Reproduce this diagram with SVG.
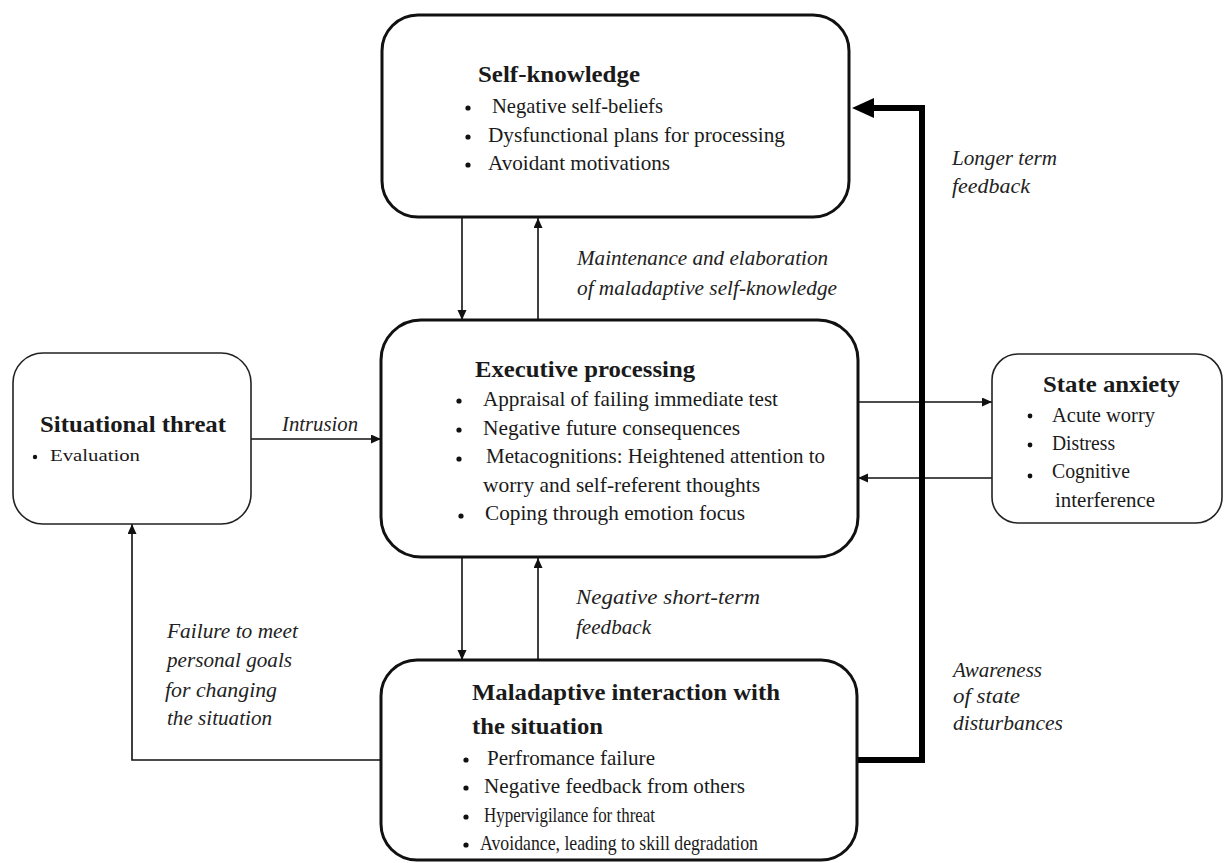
<svg xmlns="http://www.w3.org/2000/svg" width="1225" height="863" viewBox="0 0 1225 863">
<defs>
<style>
.box{fill:#fff;stroke:#111;stroke-width:3}
.sbox{fill:#fff;stroke:#222;stroke-width:1.6}
.t{font-family:"Liberation Serif","Times New Roman",serif;fill:#1a1a1a}
.title{font-weight:bold;font-size:24px}
.item{font-size:21px}
.lab{font-style:italic;font-size:21px;fill:#222}
.ln{fill:none;stroke:#111;stroke-width:1.6}
.thick{fill:none;stroke:#000;stroke-width:6}
</style>
<marker id="ah" markerUnits="userSpaceOnUse" markerWidth="12" markerHeight="10" refX="10" refY="4.5" orient="auto">
<path d="M0,0 L10,4.5 L0,9 z" fill="#111"/>
</marker>
<marker id="big" markerUnits="userSpaceOnUse" markerWidth="24" markerHeight="22" refX="8" refY="10" orient="auto">
<path d="M0,0 L22,10 L0,20 z" fill="#000"/>
</marker>
</defs>
<rect width="1225" height="863" fill="#fff"/>

<g id="connectors">
<line class="ln" x1="462" y1="218" x2="462" y2="320" marker-end="url(#ah)"/>
<line class="ln" x1="538" y1="320" x2="538" y2="218" marker-end="url(#ah)"/>
<line class="ln" x1="462" y1="558" x2="462" y2="660" marker-end="url(#ah)"/>
<line class="ln" x1="538" y1="660" x2="538" y2="558" marker-end="url(#ah)"/>
<line class="ln" x1="251" y1="439" x2="381" y2="439" marker-end="url(#ah)"/>
<line class="ln" x1="858" y1="402" x2="992" y2="402" marker-end="url(#ah)"/>
<line class="ln" x1="992" y1="478" x2="858" y2="478" marker-end="url(#ah)"/>
<path class="ln" d="M381,760 H132 V524" marker-end="url(#ah)"/>
<path class="thick" d="M857,760 H922 V108 H866" marker-end="url(#big)"/>
<text class="t lab" x="282" y="431" textLength="76" lengthAdjust="spacingAndGlyphs">Intrusion</text>
<text class="t lab" x="577" y="265" textLength="251" lengthAdjust="spacingAndGlyphs">Maintenance and elaboration</text>
<text class="t lab" x="577" y="295" textLength="260" lengthAdjust="spacingAndGlyphs">of maladaptive self-knowledge</text>
<text class="t lab" x="952" y="165" textLength="105" lengthAdjust="spacingAndGlyphs">Longer term</text>
<text class="t lab" x="952" y="193" textLength="78" lengthAdjust="spacingAndGlyphs">feedback</text>
<text class="t lab" x="576" y="604" textLength="184" lengthAdjust="spacingAndGlyphs">Negative short-term</text>
<text class="t lab" x="576" y="634" textLength="75" lengthAdjust="spacingAndGlyphs">feedback</text>
<text class="t lab" x="167" y="638" textLength="131" lengthAdjust="spacingAndGlyphs">Failure to meet</text>
<text class="t lab" x="167" y="667" textLength="125" lengthAdjust="spacingAndGlyphs">personal goals</text>
<text class="t lab" x="165" y="697" textLength="112" lengthAdjust="spacingAndGlyphs">for changing</text>
<text class="t lab" x="167" y="725" textLength="105" lengthAdjust="spacingAndGlyphs">the situation</text>
<text class="t lab" x="953" y="677" textLength="89" lengthAdjust="spacingAndGlyphs">Awareness</text>
<text class="t lab" x="953" y="703" textLength="67" lengthAdjust="spacingAndGlyphs">of state</text>
<text class="t lab" x="953" y="730" textLength="110" lengthAdjust="spacingAndGlyphs">disturbances</text>
</g>

<g id="self-knowledge">
<rect class="box" x="382" y="15" width="467" height="202" rx="36"/>
<text class="t title" x="478" y="82" textLength="162" lengthAdjust="spacingAndGlyphs">Self-knowledge</text>
<circle cx="468" cy="108" r="2.6" fill="#111"/>
<circle cx="468" cy="137" r="2.6" fill="#111"/>
<circle cx="468" cy="165" r="2.6" fill="#111"/>
<text class="t item" x="492" y="113" textLength="171" lengthAdjust="spacingAndGlyphs">Negative self-beliefs</text>
<text class="t item" x="488" y="142" textLength="297" lengthAdjust="spacingAndGlyphs">Dysfunctional plans for processing</text>
<text class="t item" x="488" y="170" textLength="182" lengthAdjust="spacingAndGlyphs">Avoidant motivations</text>
</g>

<g id="executive-processing">
<rect class="box" x="381" y="320" width="477" height="237" rx="40"/>
<text class="t title" x="475" y="377" textLength="220" lengthAdjust="spacingAndGlyphs">Executive processing</text>
<circle cx="459" cy="401" r="2.6" fill="#111"/>
<circle cx="459" cy="430" r="2.6" fill="#111"/>
<circle cx="459" cy="459" r="2.6" fill="#111"/>
<circle cx="461" cy="516" r="2.6" fill="#111"/>
<text class="t item" x="483" y="406" textLength="295" lengthAdjust="spacingAndGlyphs">Appraisal of failing immediate test</text>
<text class="t item" x="483" y="435" textLength="257" lengthAdjust="spacingAndGlyphs">Negative future consequences</text>
<text class="t item" x="486" y="463" textLength="339" lengthAdjust="spacingAndGlyphs">Metacognitions: Heightened attention to</text>
<text class="t item" x="483" y="492" textLength="277" lengthAdjust="spacingAndGlyphs">worry and self-referent thoughts</text>
<text class="t item" x="485" y="520" textLength="260" lengthAdjust="spacingAndGlyphs">Coping through emotion focus</text>
</g>

<g id="maladaptive-interaction">
<rect class="box" x="381" y="660" width="476" height="200" rx="36"/>
<text class="t title" x="472" y="700" textLength="308" lengthAdjust="spacingAndGlyphs">Maladaptive interaction with</text>
<text class="t title" x="472" y="734" textLength="131" lengthAdjust="spacingAndGlyphs">the situation</text>
<circle cx="466" cy="760" r="2.6" fill="#111"/>
<circle cx="466" cy="788" r="2.6" fill="#111"/>
<circle cx="466" cy="817" r="2.6" fill="#111"/>
<circle cx="466" cy="845" r="2.6" fill="#111"/>
<text class="t item" x="487" y="765" textLength="168" lengthAdjust="spacingAndGlyphs">Perfromance failure</text>
<text class="t item" x="484" y="793" textLength="261" lengthAdjust="spacingAndGlyphs">Negative feedback from others</text>
<text class="t item" x="484" y="822" textLength="171" lengthAdjust="spacingAndGlyphs">Hypervigilance  for threat</text>
<text class="t item" x="480" y="850" textLength="278" lengthAdjust="spacingAndGlyphs">Avoidance, leading to skill degradation</text>
</g>

<g id="situational-threat">
<rect class="sbox" x="13" y="353" width="238" height="171" rx="30"/>
<text class="t title" x="40" y="432" textLength="186" lengthAdjust="spacingAndGlyphs">Situational threat</text>
<circle cx="35" cy="457" r="2.2" fill="#111"/>
<text class="t" x="50" y="461" font-size="16" textLength="90" lengthAdjust="spacingAndGlyphs">Evaluation</text>
</g>

<g id="state-anxiety">
<rect class="sbox" x="992" y="354" width="230" height="169" rx="26"/>
<text class="t title" x="1043" y="392" textLength="137" lengthAdjust="spacingAndGlyphs">State anxiety</text>
<circle cx="1030" cy="416" r="2.4" fill="#111"/>
<circle cx="1030" cy="445" r="2.4" fill="#111"/>
<circle cx="1030" cy="476" r="2.4" fill="#111"/>
<text class="t item" x="1052" y="422" textLength="103" lengthAdjust="spacingAndGlyphs">Acute worry</text>
<text class="t item" x="1052" y="450" textLength="63" lengthAdjust="spacingAndGlyphs">Distress</text>
<text class="t item" x="1052" y="478" textLength="78" lengthAdjust="spacingAndGlyphs">Cognitive</text>
<text class="t item" x="1055" y="507" textLength="100" lengthAdjust="spacingAndGlyphs">interference</text>
</g>
</svg>
